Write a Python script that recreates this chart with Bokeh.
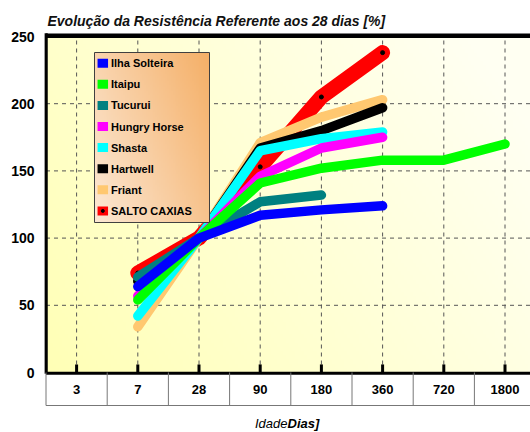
import numpy as np
from bokeh.plotting import figure
from bokeh.models import Range1d, FixedTicker, Label
from bokeh.core.properties import value
from bokeh.embed import file_html
from bokeh.resources import INLINE

nan = float("nan")

# ---- data ----
categories = ["3", "7", "28", "90", "180", "360", "720", "1800"]
series_names = ["Ilha Solteira", "Itaipu", "Tucurui", "Hungry Horse",
                "Shasta", "Hartwell", "Friant", "SALTO CAXIAS"]
ilha_solteira = [nan, 64, 100, 117, 121, 124, nan, nan]
itaipu = [nan, 54, 100, 141, 152, 158, 158, 170]
tucurui = [nan, 71, 100, 127, 132, nan, nan, nan]
hungry_horse = [nan, 57, 100, 146, 167, 175, nan, nan]
shasta = [nan, 42, 100, 165, 174, 179, nan, nan]
hartwell = [nan, 68, 100, 167, 180, 197, nan, nan]
friant = [nan, 34, 100, 171, 190, 203, nan, nan]
salto_caxias = [nan, 74, 100, 153, 205, 238, nan, nan]
series_values = [ilha_solteira, itaipu, tucurui, hungry_horse,
                 shasta, hartwell, friant, salto_caxias]
y_ticks = [0, 50, 100, 150, 200, 250]
grid_y = [50, 100, 150, 200]
title_text = "Evolução da Resistência Referente aos 28 dias [%]"
xlabel_a = "Idade"
xlabel_b = "Dias]"

# ---- styles ----
colors = ["#0000FF", "#00FF00", "#008080", "#FF00FF",
          "#00FFFF", "#000000", "#FFC870", "#FF0000"]
widths = [9.5, 9.5, 9.5, 9.5, 9.5, 9.5, 9.5, 15]
FONT = value("Liberation Sans")

# ---- layout helpers (page pixels -> data) ----
FL = 44          # frame left (page px)
CELL = 61.2
X0 = -0.5 - 1.5 / CELL
X1 = X0 + (530 - FL) / CELL
YS = 1.344


def xp(px):
    return X0 + (px - FL) / CELL


def yp(py):
    return (372 - py) / YS


Y0 = yp(432)
Y1 = yp(0)

xpos = list(range(len(categories)))

p = figure(width=530, height=432, x_range=Range1d(X0, X1), y_range=Range1d(Y0, Y1),
           output_backend="svg", toolbar_location=None,
           min_border_left=FL, min_border_right=0, min_border_top=0, min_border_bottom=0)
p.xaxis.visible = False
p.xgrid.visible = False
p.ygrid.visible = False
p.outline_line_color = None
p.background_fill_color = "white"
p.border_fill_color = "white"

ya = p.yaxis[0]
ya.ticker = FixedTicker(ticks=y_ticks)
ya.axis_line_color = None
ya.major_tick_line_color = None
ya.minor_tick_line_color = None
ya.major_tick_out = 0
ya.major_tick_in = 0
ya.major_label_standoff = 10
ya.major_label_text_font = "Liberation Sans"
ya.major_label_text_font_style = "bold"
ya.major_label_text_font_size = "14px"
ya.major_label_text_color = "black"

# background gradient for plot area
nx, ny = 160, 80
fx = np.linspace(0, 1, nx)[None, :]
fy = np.linspace(0, 1, ny)[:, None]
t = np.clip(0.75 * fx + 0.35 * fy, 0, 1)
b = (182 + (242 - 182) * t).astype(np.uint32)
img = np.empty((ny, nx), dtype=np.uint32)
v = img.view(dtype=np.uint8).reshape((ny, nx, 4))
v[..., 0] = 255
v[..., 1] = 255
v[..., 2] = b
v[..., 3] = 255
p.image_rgba(image=[img], x=-0.5, y=0, dw=X1 + 0.5, dh=250)

# dashed grid
p.segment(x0=xpos, y0=[0] * len(xpos), x1=xpos, y1=[250] * len(xpos),
          line_color="#555555", line_width=1, line_dash="4 4")
p.segment(x0=[-0.5] * len(grid_y), y0=grid_y, x1=[X1] * len(grid_y), y1=grid_y,
          line_color="#555555", line_width=1, line_dash="4 4")

# series lines (last series drawn first)
for i in reversed(range(len(series_names))):
    p.line(xpos, series_values[i], line_color=colors[i], line_width=widths[i],
           line_join="round", line_cap="round")
    if i == len(series_names) - 1:
        p.scatter(xpos, series_values[i], size=4, color="black")

# frame borders and axis
p.segment(x0=[-0.5], y0=[-1], x1=[-0.5], y1=[252.5], line_color="black", line_width=3.5)
p.segment(x0=[-0.5], y0=[250.5], x1=[X1], y1=[250.5], line_color="black", line_width=4.5)
p.segment(x0=[-0.5], y0=[-0.6], x1=[X1], y1=[-0.6], line_color="black", line_width=3)
p.segment(x0=xpos, y0=[0] * len(xpos), x1=xpos, y1=[6] * len(xpos),
          line_color="black", line_width=3)

# category table below the axis
bounds = [k - 0.5 for k in range(len(categories))]
ytb = yp(405)
p.segment(x0=bounds, y0=[ytb] * len(bounds), x1=bounds, y1=[0] * len(bounds),
          line_color="#777777", line_width=1)
p.segment(x0=[-0.5], y0=[ytb], x1=[X1], y1=[ytb], line_color="#777777", line_width=1)
p.text(x=xpos, y=[yp(388.5)] * len(xpos), text=categories, text_font=FONT,
       text_font_style="bold", text_font_size="13px", text_align="center",
       text_baseline="middle", text_color="black")

# legend
lx0, lx1, ly0, ly1 = 94, 209, 52, 222
lnx, lny = 60, 80
gx = np.linspace(0, 1, lnx)[None, :]
gy = np.linspace(0, 1, lny)[:, None]
tt = np.clip(0.65 * gx + 0.35 * gy, 0, 1)
limg = np.empty((lny, lnx), dtype=np.uint32)
lv = limg.view(dtype=np.uint8).reshape((lny, lnx, 4))
lv[..., 0] = (252 + (245 - 252) * tt).astype(np.uint8)
lv[..., 1] = (232 + (176 - 232) * tt).astype(np.uint8)
lv[..., 2] = (212 + (104 - 212) * tt).astype(np.uint8)
lv[..., 3] = 255
p.image_rgba(image=[limg], x=xp(lx0), y=yp(ly1), dw=xp(lx1) - xp(lx0), dh=yp(ly0) - yp(ly1))
p.quad(left=[xp(lx0)], right=[xp(lx1)], top=[yp(ly0)], bottom=[yp(ly1)],
       fill_color=None, line_color="#404040", line_width=1)
rows = [yp(62.7 + 21.1 * k) for k in range(len(series_names))]
p.rect(x=[xp(102.3)] * len(rows), y=rows, width=10.5, height=9,
       width_units="screen", height_units="screen", fill_color=colors, line_color=None)
p.scatter(x=[xp(102.3)], y=[rows[-1]], size=3, color="black")
p.text(x=[xp(110.5)] * len(rows), y=rows, text=series_names, text_font=FONT,
       text_font_style="bold", text_font_size="11px", text_baseline="middle",
       text_color="black")

# titles (inside the extended frame)
p.add_layout(Label(x=xp(47), y=yp(20), text=title_text, text_font="Liberation Sans",
                   text_font_style="bold italic", text_font_size="14px",
                   text_baseline="middle", text_color="#111111"))
p.add_layout(Label(x=xp(287), y=yp(423), text=xlabel_a, text_font="Liberation Sans",
                   text_font_style="italic", text_font_size="13px", text_align="right",
                   text_baseline="middle", text_color="black"))
p.add_layout(Label(x=xp(287), y=yp(423), text=xlabel_b, text_font="Liberation Sans",
                   text_font_style="bold italic", text_font_size="13px", text_align="left",
                   text_baseline="middle", text_color="black"))

open("out.html", "w").write(file_html(p, INLINE))
